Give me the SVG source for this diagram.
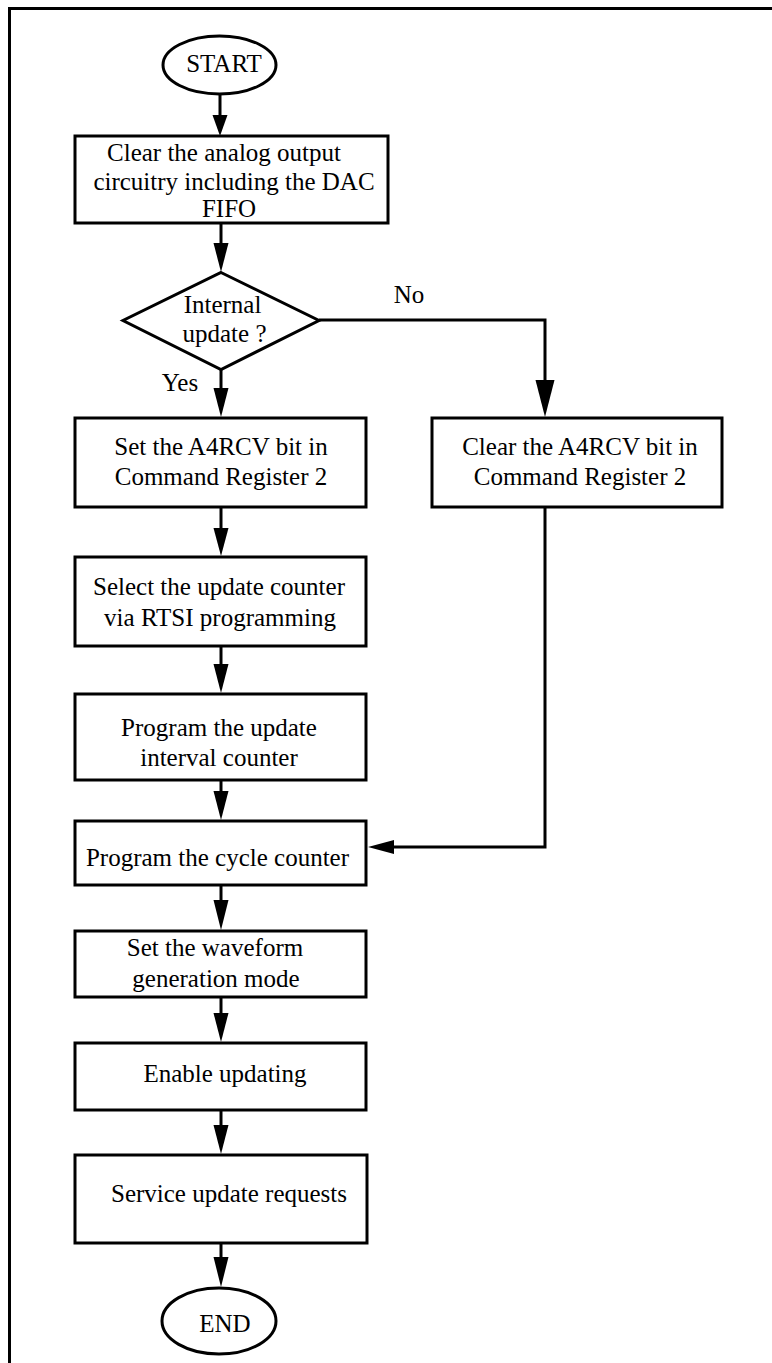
<svg xmlns="http://www.w3.org/2000/svg" width="772" height="1363" viewBox="0 0 772 1363">
<style>
  .shape { fill: #ffffff; stroke: #000000; stroke-width: 3; }
  .line { fill: none; stroke: #000000; stroke-width: 3; }
  .head { fill: #000000; stroke: none; }
  .t { font-family: "Liberation Serif", "Times New Roman", serif; font-size: 25px; fill: #000000; text-anchor: middle; }
  .frame { fill: none; stroke: #000000; stroke-width: 3; }
</style>
<rect x="0" y="0" width="772" height="1363" fill="#ffffff"/>
<path class="frame" d="M9.5,1363 V8.5 H772"/>

<g id="connectors">
  <line class="line" x1="220" y1="94" x2="220" y2="118"/>
  <polygon class="head" points="212.5,115 227.5,115 220,136"/>

  <line class="line" x1="221" y1="223" x2="221" y2="246"/>
  <polygon class="head" points="213.5,243 228.5,243 221,272"/>

  <line class="line" x1="221" y1="370" x2="221" y2="391"/>
  <polygon class="head" points="213.5,388 228.5,388 221,417"/>

  <polyline class="line" points="319,320 545,320 545,383"/>
  <polygon class="head" points="535.5,380 554.5,380 545,417"/>

  <line class="line" x1="221" y1="507" x2="221" y2="531"/>
  <polygon class="head" points="213.5,528 228.5,528 221,556"/>

  <line class="line" x1="221" y1="646" x2="221" y2="667"/>
  <polygon class="head" points="213.5,664 228.5,664 221,693"/>

  <line class="line" x1="221" y1="780" x2="221" y2="794"/>
  <polygon class="head" points="213.5,791 228.5,791 221,820"/>

  <polyline class="line" points="545,507 545,847 391,847"/>
  <polygon class="head" points="394,840 394,854 368,847"/>

  <line class="line" x1="221" y1="885" x2="221" y2="903"/>
  <polygon class="head" points="213.5,900 228.5,900 221,930"/>

  <line class="line" x1="221" y1="997" x2="221" y2="1016"/>
  <polygon class="head" points="213.5,1013 228.5,1013 221,1042"/>

  <line class="line" x1="221" y1="1110" x2="221" y2="1128"/>
  <polygon class="head" points="213.5,1125 228.5,1125 221,1154"/>

  <line class="line" x1="221" y1="1243" x2="221" y2="1260"/>
  <polygon class="head" points="213.5,1257 228.5,1257 221,1287"/>

  <text class="t" x="409" y="303">No</text>
  <text class="t" x="180" y="391">Yes</text>
</g>

<g id="start">
  <ellipse class="shape" cx="219.5" cy="65" rx="56.5" ry="29"/>
  <text class="t" x="224" y="72">START</text>
</g>

<g id="clear-analog">
  <rect class="shape" x="75" y="136" width="313" height="87"/>
  <text class="t" x="224" y="161">Clear the analog output</text>
  <text class="t" x="234" y="190">circuitry including the DAC</text>
  <text class="t" x="229" y="217">FIFO</text>
</g>

<g id="internal-update">
  <polygon class="shape" points="221,272.5 319,320.5 221,369.5 123,320.5"/>
  <text class="t" x="222.5" y="313">Internal</text>
  <text class="t" x="224.5" y="342">update ?</text>
</g>

<g id="set-a4rcv">
  <rect class="shape" x="75" y="418" width="291" height="89"/>
  <text class="t" x="221" y="455">Set the A4RCV bit in</text>
  <text class="t" x="221" y="485">Command Register 2</text>
</g>

<g id="clear-a4rcv">
  <rect class="shape" x="432" y="418" width="290" height="89"/>
  <text class="t" x="580" y="455">Clear the A4RCV bit in</text>
  <text class="t" x="580" y="485">Command Register 2</text>
</g>

<g id="select-counter">
  <rect class="shape" x="75" y="557" width="291" height="89"/>
  <text class="t" x="219" y="595">Select the update counter</text>
  <text class="t" x="220" y="626">via RTSI programming</text>
</g>

<g id="program-interval">
  <rect class="shape" x="75" y="694" width="291" height="86"/>
  <text class="t" x="219" y="736">Program the update</text>
  <text class="t" x="219" y="766">interval counter</text>
</g>

<g id="program-cycle">
  <rect class="shape" x="75" y="821" width="291" height="64"/>
  <text class="t" x="217.5" y="866">Program the cycle counter</text>
</g>

<g id="waveform-mode">
  <rect class="shape" x="75" y="931" width="291" height="66"/>
  <text class="t" x="215" y="956">Set the waveform</text>
  <text class="t" x="216" y="987">generation mode</text>
</g>

<g id="enable-updating">
  <rect class="shape" x="75" y="1043" width="291" height="67"/>
  <text class="t" x="225" y="1082">Enable updating</text>
</g>

<g id="service-requests">
  <rect class="shape" x="75" y="1155" width="292" height="88"/>
  <text class="t" x="229" y="1202">Service update requests</text>
</g>

<g id="end">
  <ellipse class="shape" cx="219" cy="1321" rx="57" ry="33"/>
  <text class="t" x="225" y="1332">END</text>
</g>
</svg>
